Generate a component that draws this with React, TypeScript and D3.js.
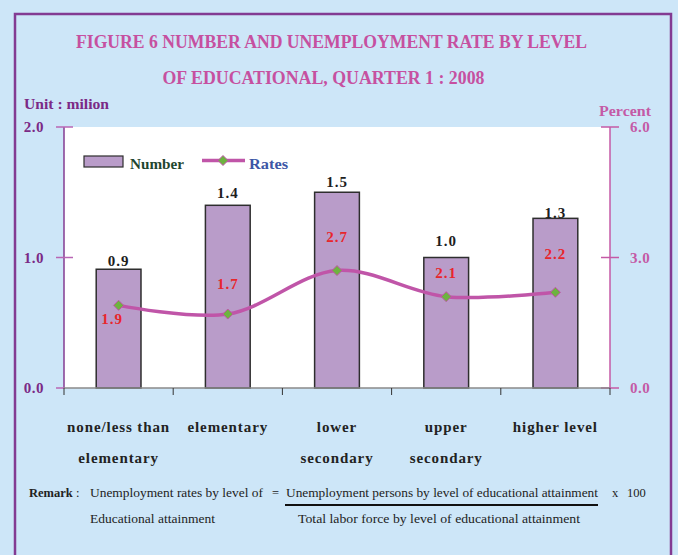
import React from 'react';
import * as d3 from 'd3';

const categories = ['none/less than elementary', 'elementary', 'lower secondary', 'upper secondary', 'higher level'];
const categoryLines = [['none/less than', 'elementary'], ['elementary'], ['lower', 'secondary'], ['upper', 'secondary'], ['higher level']];
const numbers = [0.91, 1.4, 1.5, 1.0, 1.3];
const numberLabels = ['0.9', '1.4', '1.5', '1.0', '1.3'];
const rates = [1.9, 1.7, 2.7, 2.1, 2.2];
const rateLabels = ['1.9', '1.7', '2.7', '2.1', '2.2'];
const leftTicks = [0, 1, 2];
const rightTicks = [0, 3, 6];

// layout (styling only)
const W = 678, H = 555;
const PL = 64, PR = 610, PT = 127, PB = 388;
const numLabelGap = [3.5, 7, 5.5, 12, 0];
const rateLabelDx = [-6.5, 0, 0, 0, 0];
const rateLabelDy = [18.5, -25, -29, -19, -33];

const SERIF = '"Liberation Serif", "Times New Roman", serif';
const BG = '#cde6f8';
const PURPLE = '#833b92';
const PINK = '#c45aa6';
const LINE = '#c055a8';

export default function App() {
  const x = d3.scaleBand<string>().domain(categories).range([PL, PR]).paddingInner(0.59).paddingOuter(0.295);
  const step = x.step();
  const yL = d3.scaleLinear().domain([0, 2]).range([PB, PT]);
  const yR = d3.scaleLinear().domain([0, 6]).range([PB, PT]);
  const cx = (c: string) => (x(c) as number) + x.bandwidth() / 2;
  const pts: [number, number][] = categories.map((c, i) => [cx(c), yR(rates[i])]);
  const linePath = d3.line().curve(d3.curveCatmullRom.alpha(0.5))(pts) || '';
  const diamond = (px: number, py: number, r: number) => `M${px},${py - r}L${px + r},${py}L${px},${py + r}L${px - r},${py}Z`;
  const boundaries = d3.range(categories.length + 1).map((i) => PL + i * step);

  return (
    <svg width={W} height={H} style={{ position: 'absolute', left: 0, top: 0, display: 'block' }} fontFamily={SERIF}>
      <rect x={0} y={0} width={W} height={H} fill={BG} />
      <rect x={15} y={14} width={656} height={600} fill="none" stroke={PURPLE} strokeWidth={2.5} />

      {/* title */}
      <text x={331.5} y={48} textAnchor="middle" fontSize={18} fontWeight="bold" fill="#c650a0" textLength={511} lengthAdjust="spacingAndGlyphs">
        FIGURE 6 NUMBER AND UNEMPLOYMENT RATE BY LEVEL
      </text>
      <text x={323.5} y={84} textAnchor="middle" fontSize={18} fontWeight="bold" fill="#c650a0" textLength={322} lengthAdjust="spacingAndGlyphs">
        OF EDUCATIONAL, QUARTER 1 : 2008
      </text>

      <text x={24} y={109} fontSize={14} fontWeight="bold" fill="#7b2a86" textLength={85} lengthAdjust="spacingAndGlyphs">Unit : milion</text>
      <text x={599} y={116} fontSize={14} fontWeight="bold" fill={PINK} textLength={52} lengthAdjust="spacingAndGlyphs">Percent</text>

      {/* plot area */}
      <rect x={PL} y={PT} width={PR - PL} height={PB - PT} fill="#ffffff" />

      {/* bars */}
      {categories.map((c, i) => (
        <rect key={c} x={x(c)} y={yL(numbers[i])} width={x.bandwidth()} height={PB - yL(numbers[i])}
          fill="#b99cc9" stroke="#2e2e2e" strokeWidth={1.5} />
      ))}
      {categories.map((c, i) => (
        <text key={c} x={cx(c)} y={yL(numbers[i]) - numLabelGap[i]} textAnchor="middle" fontSize={15} fontWeight="bold" fill="#1e1e1e" letterSpacing={1}>
          {numberLabels[i]}
        </text>
      ))}

      {/* left axis */}
      <line x1={PL} x2={PL} y1={PT} y2={PB} stroke={PURPLE} strokeWidth={1.5} />
      {leftTicks.map((t) => (
        <g key={t}>
          <line x1={56} x2={t === 0 ? PL : 73} y1={yL(t)} y2={yL(t)} stroke="#b866b4" strokeWidth={1.5} />
          <text x={44} y={yL(t)} dy="0.35em" textAnchor="end" fontSize={15} fontWeight="bold" fill="#7b2a86" letterSpacing={0.5}>
            {t.toFixed(1)}
          </text>
        </g>
      ))}

      {/* right axis */}
      <line x1={PR} x2={PR} y1={PT} y2={PB} stroke={PINK} strokeWidth={1.5} />
      {rightTicks.map((t) => (
        <g key={t}>
          <line x1={601} x2={619} y1={yR(t)} y2={yR(t)} stroke={PINK} strokeWidth={1.5} />
          <text x={630} y={yR(t)} dy="0.35em" fontSize={15} fontWeight="bold" fill={PINK} letterSpacing={0.5}>
            {t.toFixed(1)}
          </text>
        </g>
      ))}

      {/* bottom axis */}
      <line x1={PL} x2={PR} y1={PB} y2={PB} stroke="#8a8a8a" strokeWidth={1.5} />
      {boundaries.map((bx, i) => (
        <line key={i} x1={bx} x2={bx} y1={PB} y2={PB + 7} stroke="#333" strokeWidth={1} />
      ))}

      {/* rates line */}
      <path d={linePath} fill="none" stroke={LINE} strokeWidth={3.5} strokeLinecap="round" />
      {pts.map(([px, py], i) => (
        <path key={i} d={diamond(px, py, 5)} fill="#6db33f" stroke={LINE} strokeWidth={1} />
      ))}
      {pts.map(([px, py], i) => (
        <text key={i} x={px + rateLabelDx[i]} y={py + rateLabelDy[i]} textAnchor="middle" fontSize={15} fontWeight="bold" fill="#e8262c" letterSpacing={1}>
          {rateLabels[i]}
        </text>
      ))}

      {/* legend */}
      <rect x={84} y={156} width={39} height={11} fill="#b99cc9" stroke="#2e2e2e" strokeWidth={1.2} />
      <text x={130} y={169} fontSize={14} fontWeight="bold" fill="#1f4630" textLength={54} lengthAdjust="spacingAndGlyphs">Number</text>
      <line x1={202} x2={245} y1={160.5} y2={160.5} stroke={LINE} strokeWidth={3.5} />
      <path d={diamond(223, 160.5, 5)} fill="#6db33f" stroke={LINE} strokeWidth={1} />
      <text x={249} y={169} fontSize={14} fontWeight="bold" fill="#3c56a6" textLength={39} lengthAdjust="spacingAndGlyphs">Rates</text>

      {/* category labels */}
      {categories.map((c, i) => (
        <g key={c}>
          {categoryLines[i].map((ln, j) => (
            <text key={j} x={cx(c)} y={432 + j * 31} textAnchor="middle" fontSize={15} fontWeight="bold" fill="#222" letterSpacing={0.9}>
              {ln}
            </text>
          ))}
        </g>
      ))}

      {/* remark */}
      <text x={29} y={497} fontSize={12.5} fill="#222">
        <tspan fontWeight="bold">Remark</tspan>
        <tspan> :</tspan>
      </text>
      <text x={90} y={497} fontSize={12.5} fill="#222" textLength={173} lengthAdjust="spacingAndGlyphs">Unemployment rates by level of</text>
      <text x={272} y={497} fontSize={12.5} fill="#222">=</text>
      <text x={286} y={497} fontSize={12.5} fill="#222" textLength={312} lengthAdjust="spacingAndGlyphs">Unemployment persons by level of educational attainment</text>
      <text x={612} y={497} fontSize={12.5} fill="#222">x</text>
      <text x={627} y={497} fontSize={12.5} fill="#222">100</text>
      <line x1={285} x2={598} y1={505} y2={505} stroke="#111" strokeWidth={2} />
      <text x={90} y={523} fontSize={12.5} fill="#222" textLength={125} lengthAdjust="spacingAndGlyphs">Educational attainment</text>
      <text x={298} y={523} fontSize={12.5} fill="#222" textLength={282} lengthAdjust="spacingAndGlyphs">Total labor force by level of educational attainment</text>
    </svg>
  );
}
